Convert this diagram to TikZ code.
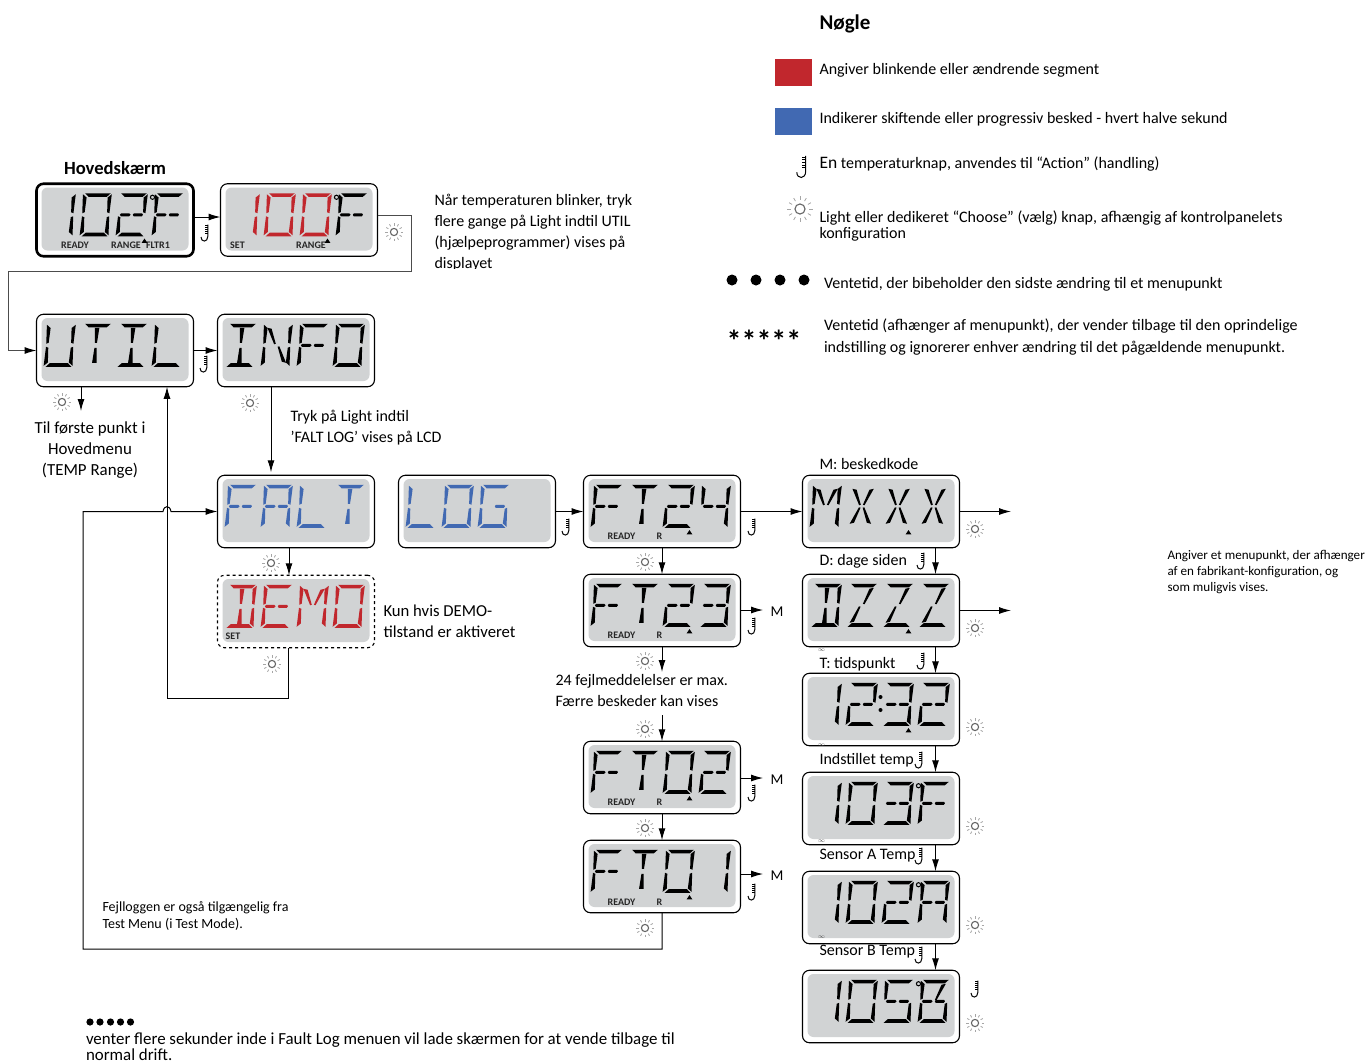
\documentclass[tikz,border=0pt]{standalone}
\usepackage{fontspec}
\setmainfont{Carlito}
\usetikzlibrary{arrows.meta}

\definecolor{lcdgrey}{HTML}{D1D3D4}
\definecolor{segred}{HTML}{C1272D}
\definecolor{segblue}{HTML}{4169B2}

% segments of one character cell, 27 wide and 43 high
\def\sega{(2,0)--(26,0)--(22.5,3.6)--(5.5,3.6)--cycle}
\def\segb{(27,1)--(26.2,20)--(24,19)--(23.3,4.3)--cycle}
\def\segc{(26.2,23)--(27,42)--(23.3,38.7)--(24,24)--cycle}
\def\segd{(5.5,39.4)--(22.5,39.4)--(26,43)--(2,43)--cycle}
\def\sege{(.8,23)--(3,24)--(3.7,38.7)--(0,42)--cycle}
\def\segf{(0,1)--(3.7,4.3)--(3,19)--(.8,20)--cycle}
\def\segg{(3.5,20)--(11,20)--(12.5,21.5)--(11,23.1)--(3.5,23.1)--(2.5,21.5)--cycle}
\def\segh{(15.5,20)--(23,20)--(24,21.5)--(23,23.1)--(15.5,23.1)--(14.5,21.5)--cycle}
\def\segi{(11.4,4)--(15.6,4)--(14.5,19)--(12.5,19)--cycle}
\def\segl{(12.5,24)--(14.5,24)--(15.6,39)--(11.4,39)--cycle}
\def\segm{(3.5,4)--(7.5,5)--(12.5,20)--(11,20.5)--cycle}
\def\segj{(23.5,4)--(19.5,5)--(14.5,20)--(16,20.5)--cycle}
\def\segk{(11,22.5)--(12.5,23)--(7.5,38)--(3.5,39)--cycle}
\def\segn{(16,22.5)--(14.5,23)--(19.5,38)--(23.5,39)--cycle}
\def\segz{(0,0)}

% characters as lists of segments
\def\glyphz{z}
\def\glyphU{b,c,d,e,f}
\def\glyphT{a,i,l}
\def\glyphI{a,d,i,l}
\def\glyphL{d,e,f}
\def\glyphN{b,c,e,f,m,n}
\def\glyphF{a,e,f,g,h}
\def\glyphO{a,b,c,d,e,f}
\def\glyphA{a,b,c,e,f,g,h}
\def\glyphG{a,c,d,e,f,h}
\def\glyphD{a,b,c,d,i,l}
\def\glyphE{a,d,e,f,g,h}
\def\glyphM{b,c,e,f,m,j}
\def\glyphX{m,j,k,n}
\def\glyphZ{a,d,j,k}
\def\glyphB{a,c,d,e,f,g,h,j}
\def\glyphone{b,c}
\def\glyphtwo{a,b,d,e,g,h}
\def\glyphthree{a,b,c,d,g,h}
\def\glyphfour{b,c,f,g,h}
\def\glyphfive{a,c,d,f,g,h}

\newcommand{\lcdpanel}[3][]{%
  \node[lcdbox,#1] (#2) at (#3) {};
  \node[lcdface] (#2face) at ([yshift=1pt]#2.center) {};}
\newcommand{\lcdtext}[3][black]{%
  \foreach \g [count=\k from 0] in {#3} {
    \edef\seglist{\csname glyph\g\endcsname}
    \foreach \s in \seglist {
      \expandafter\let\expandafter\segpath\csname seg\s\endcsname
      \fill[#1,shift={(#2.north west)},shift={(10.5+36*\k,9.5)},xslant=.08,xscale=1.07] \segpath;
    }
  }}
\newcommand{\lcddeg}[1]{\draw[line width=1pt,shift={(#1.north west)}] (116,13.5) circle (2.1);}
\newcommand{\lcdmark}[3]{\fill[shift={(#1.north west)}] (#2,#3) +(-2.8,2) -- +(2.8,2) -- +(0,-2.2) -- cycle;}

\tikzset{
  lcdbox/.style={rectangle,rounded corners=7pt,draw=black,line width=1.1pt,fill=white,minimum width=157pt,minimum height=72.5pt,outer sep=0pt},
  lcdface/.style={rectangle,rounded corners=6pt,fill=lcdgrey,minimum width=147pt,minimum height=63pt,outer sep=0pt},
  flag/.style={font=\fontsize{10}{10}\selectfont\bfseries,inner sep=0pt,text=black!85},
  txt/.style={anchor=north west,inner sep=0pt,align=left,font=\fontsize{16}{21}\selectfont},
  small/.style={anchor=north west,inner sep=0pt,align=left,font=\fontsize{14}{17}\selectfont},
  hold/.style={inner sep=0pt,font=\fontsize{6}{6}\selectfont,text=black!70},
  lightkey/.pic={
    \draw[black!60,line width=1.1pt] (0,0) circle (3.6);
    \foreach \a in {0,30,...,330}
      \draw[black!35,line width=.8pt] (\a:6.5) -- (\a:9);
  },
  tempkey/.pic={
    \draw[line width=1pt] (2.8,-8.5) -- (2.8,3.5) .. controls (2.8,9.5) and (-4,9.5) .. (-4,4);
    \foreach \y in {-7.5,-5.5,-3.5,-1.5,.5}
      \draw[line width=.8pt] (0,\y) -- (2.8,\y);
  }
}

\begin{document}
\begin{tikzpicture}[x=1pt,y=-1pt,>={Latex[length=12pt,width=7pt]},line width=1pt]
  \useasboundingbox (0,0) rectangle (1366,1061);

  % main screens
  \node[inner sep=0pt,font=\fontsize{18.6}{18.6}\selectfont\bfseries] (hoved) at (115,168) {Hovedskærm};
  \lcdpanel[line width=2.6pt]{main}{115,220}
  \lcdpanel{setpt}{299,220}
  \lcdtext{main}{one,O,two,F}
  \lcdtext[segred]{setpt}{one,O,O,z}
  \lcdtext{setpt}{z,z,z,F}
  \lcddeg{main}
  \lcddeg{setpt}
  \node[flag] (mainready) at (75,245) {READY};
  \node[flag] (mainrange) at (126,245) {RANGE};
  \node[flag] (mainfltr) at (158,245) {FLTR1};
  \lcdmark{main}{108}{57}
  \node[flag] (setlabel) at (237.5,245) {SET};
  \node[flag] (setrange) at (311,245) {RANGE};
  \lcdmark{setpt}{107}{57}

  % utility screens
  \lcdpanel{util}{115,350.5}
  \lcdpanel{info}{296,350.5}
  \lcdtext{util}{U,T,I,L}
  \lcdtext{info}{I,N,F,O}

  % fault log screens
  \lcdpanel{falt}{296,511.5}
  \lcdpanel{logs}{477,511.5}
  \lcdpanel[dashed]{demo}{296,611.5}
  \lcdtext[segblue]{falt}{F,A,L,T}
  \lcdtext[segblue]{logs}{L,O,G,z}
  \lcdtext[segred]{demo}{D,E,M,O}
  \node[flag] (demoset) at (233,636) {SET};

  % fault entries
  \lcdpanel{fta}{662,511.5}
  \lcdpanel{ftb}{662,610.5}
  \lcdpanel{ftc}{662,777.5}
  \lcdpanel{ftd}{662,876.5}
  \lcdtext{fta}{F,T,two,four}
  \lcdtext{ftb}{F,T,two,three}
  \lcdtext{ftc}{F,T,O,two}
  \lcdtext{ftd}{F,T,O,one}
  \foreach \n/\y in {fta/536,ftb/635,ftc/802,ftd/902} {
    \node[flag] (\n ready) at (621.5,\y) {READY};
    \node[flag] (\n r) at (659.5,\y) {R};
    \lcdmark{\n}{106}{57}
  }

  % message details
  \lcdpanel{msg}{881,511.5}
  \lcdpanel{days}{881,610.5}
  \lcdpanel{clock}{881,709.5}
  \lcdpanel{settemp}{881,808.5}
  \lcdpanel{sensa}{881,907.5}
  \lcdpanel{sensb}{881,1006.5}
  \lcdtext{msg}{M,X,X,X}
  \lcdtext{days}{D,Z,Z,Z}
  \lcdtext{clock}{one,two,three,two}
  \lcdtext{settemp}{one,O,three,F}
  \lcdtext{sensa}{one,O,two,A}
  \lcdtext{sensb}{one,O,five,B}
  \lcddeg{settemp}
  \lcddeg{sensa}
  \lcddeg{sensb}
  \lcdmark{msg}{106}{57}
  \lcdmark{days}{106}{57}
  \lcdmark{clock}{106}{57}
  \fill (880.5,697) circle (2);
  \fill (880.5,710) circle (2);
  \node[hold] (holdb) at (821.5,650) {$\infty$};
  \node[hold] (holdc) at (821.5,745) {$\infty$};
  \node[hold] (holdd) at (821.5,841) {$\infty$};
  \node[hold] (holde) at (821.5,937) {$\infty$};

  % connectors
  \coordinate (utilend) at (81,411);
  \coordinate (ftbend) at (662,672);
  \coordinate (ftcstart) at (662,715);
  \coordinate (msgend) at (1011,511.5);
  \coordinate (daysend) at (1011,610.5);
  \draw[->] ([yshift=3pt]main.east) -- ([yshift=3pt]setpt.west);
  \draw[-{Latex[length=12pt,width=7pt,black]},black!70] ([yshift=5pt]setpt.east) -- (411,215) -- (411,271) -- (8,271) -- (8,350.5) -- (util.west);
  \draw[->] (util) -- (info);
  \draw[->] (util.south -| utilend) -- (utilend);
  \draw[->] ([xshift=-25pt]info.south) -- ([xshift=-25pt,yshift=3pt]falt.north);
  \draw[->] ([xshift=-7pt]falt.south) -- ([xshift=-7pt]demo.north);
  \draw[->] ([xshift=-8pt]demo.south) -- (288,698) -- (167,698) -- ([xshift=52pt]util.south);
  \draw[->] (ftd.south) -- (662,949) -- (83,949) -- (83,511.5) -- (163,511.5) .. controls (164,505) and (170,505) .. (171,511.5) -- (falt.west);
  \draw[->] (logs) -- (fta);
  \draw[->] (fta) -- (msg);
  \draw[->] (fta) -- (ftb);
  \draw[->] (ftb.south) -- (ftbend);
  \draw[->] (ftcstart) -- (ftc.north);
  \draw[->] (ftc) -- (ftd);
  \draw[->] (msg) -- (msgend);
  \draw[->] (days) -- (daysend);
  \foreach \a/\b in {msg/days,days/clock,clock/settemp,settemp/sensa,sensa/sensb}
    \draw[->] ([xshift=54.5pt]\a.south) -- ([xshift=54.5pt]\b.north);

  % jump labels for M
  \foreach \n/\y in {ftb/612,ftc/780,ftd/876} {
    \node[inner sep=0pt,font=\fontsize{15}{15}\selectfont] (\n m) at (777,\y) {M};
    \draw[->] (\n.east |- 0,\y-2) -- ([xshift=-7pt]\n m.west |- 0,\y-2);
  }

  % button icons
  \foreach \x/\y in {394/232,62/402,250/403,271/563,272/664,645/562,645/661,645/729,645/828,645/928,975/529,975/628,975/727,975/826,975/925,975/1023}
    \pic at (\x,\y) {lightkey};
  \foreach \x/\y in {205/233,204/364,566/527,752/527,752/626,752/793,752/892,921/561,921/661,919/760,919/856,919/955,975/989}
    \pic at (\x,\y) {tempkey};

  % notes
  \begin{scope}
    \clip (425,190) rectangle (640,268);
    \node[txt] (note) at (434,194) {Når temperaturen blinker, tryk\\flere gange på Light indtil UTIL\\(hjælpeprogrammer) vises på\\displayet};
  \end{scope}
  \node[txt,align=center,anchor=north,font=\fontsize{16.9}{21}\selectfont] (firstitem) at (90,421) {Til første punkt i\\Hovedmenu\\(TEMP Range)};
  \node[txt] (faltnote) at (290,410) {Tryk på Light indtil\\’FALT LOG’ vises på LCD};
  \node[txt,font=\fontsize{16.7}{21}\selectfont] (demonote) at (383,604) {Kun hvis DEMO-\\tilstand er aktiveret};
  \node[txt] (maxnote) at (555,674) {24 fejlmeddelelser er max.\\Færre beskeder kan vises};
  \node[small] (testnote) at (102,901) {Fejlloggen er også tilgængelig fra\\Test Menu (i Test Mode).};
  \node[txt,font=\fontsize{16.9}{16}\selectfont] (waitnote) at (85.5,1032) {venter flere sekunder inde i Fault Log menuen vil lade skærmen for at vende tilbage til\\normal drift.};
  \node[small,font=\fontsize{13.1}{16}\selectfont] (optnote) at (1167,550) {Angiver et menupunkt, der afhænger\\af en fabrikant-konfiguration, og\\som muligvis vises.};
  \foreach \x in {90,100,110.5,120.5,130.5}
    \fill (\x,1022) circle (3.6);

  % screen captions
  \node[txt] (msgcap) at (819,458) {M: beskedkode};
  \node[txt] (dayscap) at (819,554) {D: dage siden};
  \node[txt] (clockcap) at (819,657) {T: tidspunkt};
  \node[txt] (setcap) at (819,753) {Indstillet temp};
  \node[txt] (sensacap) at (819,849) {Sensor A Temp};
  \node[txt] (sensbcap) at (819,945) {Sensor B Temp};

  % legend
  \node[inner sep=0pt,anchor=west,font=\fontsize{21}{21}\selectfont\bfseries] (legend) at (819,23.5) {Nøgle};
  \node[rectangle,fill=segred,minimum width=37pt,minimum height=27pt] (redkey) at (793.5,72.5) {};
  \node[rectangle,fill=segblue,minimum width=37pt,minimum height=27pt] (bluekey) at (793.5,121) {};
  \node[txt] (redtext) at (819,63) {Angiver blinkende eller ændrende segment};
  \node[txt] (bluetext) at (819,112) {Indikerer skiftende eller progressiv besked - hvert halve sekund};
  \node[txt] (temptext) at (819,156) {{\fontsize{17.5}{21}\selectfont En} temperaturknap, anvendes til “Action” (handling)};
  \node[txt,font=\fontsize{16}{16}\selectfont] (lighttext) at (819,210.5) {Light eller dedikeret “Choose” (vælg) knap, afhængig af kontrolpanelets\\konfiguration};
  \pic[scale=1.3] at (802,167) {tempkey};
  \pic[scale=1.4] at (800,209) {lightkey};
  \foreach \x in {732,756,780,804}
    \fill (\x,280) circle (5.5);
  \node[txt] (holdtext) at (823.5,277) {Ventetid, der bibeholder den sidste ændring til et menupunkt};
  \node[inner sep=0pt,font=\fontsize{30}{30}\selectfont\bfseries] (revert) at (764,341) {*****};
  \node[txt,font=\fontsize{16}{22}\selectfont] (reverttext) at (823.5,318) {Ventetid (afhænger af menupunkt), der vender tilbage til den oprindelige\\indstilling og ignorerer enhver ændring til det pågældende menupunkt.};
\end{tikzpicture}
\end{document}
